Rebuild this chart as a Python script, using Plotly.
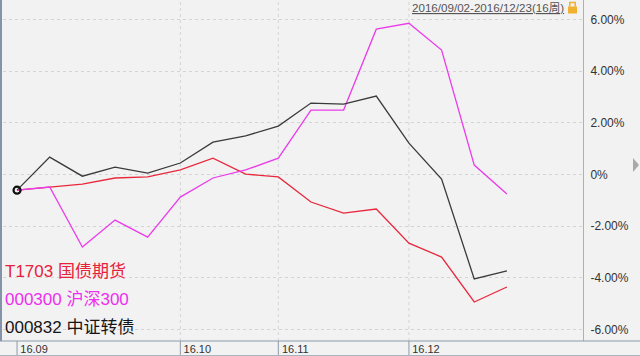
import plotly.graph_objects as go

# ---- data ----
dates = ["2016-09-02", "2016-09-09", "2016-09-14", "2016-09-23", "2016-09-30",
         "2016-10-14", "2016-10-21", "2016-10-28", "2016-11-04", "2016-11-11",
         "2016-11-18", "2016-11-25", "2016-12-02", "2016-12-09", "2016-12-16",
         "2016-12-23"]
t1703 = [-0.61, -0.49, -0.38, -0.14, -0.10, 0.17, 0.63, 0.01, -0.10, -1.07,
         -1.50, -1.34, -2.66, -3.20, -4.94, -4.36]
hs300 = [-0.61, -0.49, -2.81, -1.77, -2.43, -0.88, -0.14, 0.17, 0.63, 2.49,
         2.49, 5.62, 5.85, 4.81, 0.36, -0.76]
zzzz = [-0.61, 0.67, -0.07, 0.28, 0.05, 0.44, 1.25, 1.49, 1.87, 2.76,
        2.72, 3.03, 1.21, -0.18, -4.05, -3.74]
series_names = ["T1703 国债期货", "000300 沪深300", "000832 中证转债"]
month_dates = ["2016-09-02", "2016-10-14", "2016-11-04", "2016-12-02"]
month_labels = ["16.09", "16.10", "16.11", "16.12"]
y_ticks = [6, 4, 2, 0, -2, -4, -6]
y_labels = ["6.00%", "4.00%", "2.00%", "0%", "-2.00%", "-4.00%", "-6.00%"]
range_text = "2016/09/02-2016/12/23(16周)"

# ---- styles ----
W, H = 640, 356
ML, MR, MT, MB = 3, 57, 0, 15
PW, PH = W - ML - MR, H - MT - MB
BG = "#f2f2f2"
colors = ["#e8283c", "#ea3cea", "#3a3a3a"]
text_colors = ["#e8203a", "#ee2eee", "#151515"]


def px(x):
    return (x - ML) / PW


def py(y):
    return (MT + PH - y) / PH


fig = go.Figure()
for vals, name, col in zip([t1703, hs300, zzzz], series_names, colors):
    fig.add_trace(go.Scatter(x=dates, y=vals, mode="lines", name=name,
                             line=dict(color=col, width=1.3), showlegend=False))

# start marker
fig.add_trace(go.Scatter(x=dates[:1], y=zzzz[:1], mode="markers", showlegend=False,
                         marker=dict(symbol="circle-open", size=7, color="#111",
                                     line=dict(width=2.2, color="#111"))))

shapes = []
# vertical dotted grid at month starts
for d in month_dates[1:]:
    shapes.append(dict(type="line", xref="x", yref="paper", x0=d, x1=d, y0=0, y1=1,
                       line=dict(color="#d4d4d4", width=1, dash="dot"), layer="below"))
# bottom bar separators
for d in month_dates:
    shapes.append(dict(type="line", xref="x", yref="paper", x0=d, x1=d, y0=0, y1=py(356),
                       line=dict(color="#8c9aaa", width=1)))
# bottom bar lines
shapes.append(dict(type="line", xref="paper", yref="paper", x0=px(0), x1=px(640),
                   y0=py(341), y1=py(341), line=dict(color="#8c9aaa", width=1)))
shapes.append(dict(type="line", xref="paper", yref="paper", x0=px(0), x1=px(640),
                   y0=py(355.5), y1=py(355.5), line=dict(color="#a8b4c0", width=1)))
# left border
shapes.append(dict(type="line", xref="paper", yref="paper", x0=px(1), x1=px(1),
                   y0=py(0), y1=py(341), line=dict(color="#8394aa", width=2)))
# lock icon
shapes.append(dict(type="rect", xref="paper", yref="paper", x0=px(568), x1=px(577),
                   y0=py(13.5), y1=py(6.5), fillcolor="#f0b030", line=dict(width=0)))
shapes.append(dict(type="path", xref="paper", yref="paper",
                   path=f"M {px(569.8)} {py(6.5)} L {px(569.8)} {py(2.5)} L {px(575.2)} {py(2.5)} L {px(575.2)} {py(6.5)}",
                   line=dict(color="#f0b030", width=1.6)))
# right arrow
shapes.append(dict(type="path", xref="paper", yref="paper",
                   path=f"M {px(633)} {py(158)} L {px(639)} {py(165)} L {px(633)} {py(172)} Z",
                   fillcolor="#a9a9a9", line=dict(width=0)))

annotations = []
for name, tc, yc in zip(series_names, text_colors, [271, 299, 327]):
    annotations.append(dict(text=name, xref="paper", yref="paper", x=px(3), y=py(yc),
                            xanchor="left", yanchor="middle", showarrow=False,
                            font=dict(size=17, color=tc,
                                      family="Liberation Sans, Noto Sans CJK SC")))
annotations.append(dict(text="<u>" + range_text + "</u>", xref="paper", yref="paper",
                        x=px(566), y=py(7.5), xanchor="right", yanchor="middle",
                        showarrow=False,
                        font=dict(size=11.6, color="#555555",
                                  family="Liberation Sans, Noto Sans CJK SC")))

fig.update_layout(
    width=W, height=H,
    margin=dict(l=ML, r=MR, t=MT, b=MB, pad=0),
    paper_bgcolor=BG, plot_bgcolor=BG,
    shapes=shapes, annotations=annotations,
    xaxis=dict(type="category", categoryorder="array", categoryarray=dates,
               range=[-0.43, 17.33], showgrid=False, zeroline=False,
               showline=False, ticks="", tickvals=month_dates, ticktext=month_labels,
               ticklabelshift=17, tickfont=dict(size=11, color="#333",
                                                family="Liberation Sans")),
    yaxis=dict(side="right", range=[-6.45, 6.75], tickvals=y_ticks, ticktext=y_labels,
               showgrid=True, gridcolor="#d4d4d4", griddash="dot", zeroline=False,
               showline=True, linecolor="#a8b2bc", linewidth=1, ticks="",
               ticklabelstandoff=4,
               tickfont=dict(size=12, color="#333", family="Liberation Sans")),
    font=dict(family="Liberation Sans, Noto Sans CJK SC"),
)

fig.write_html("out.html")
